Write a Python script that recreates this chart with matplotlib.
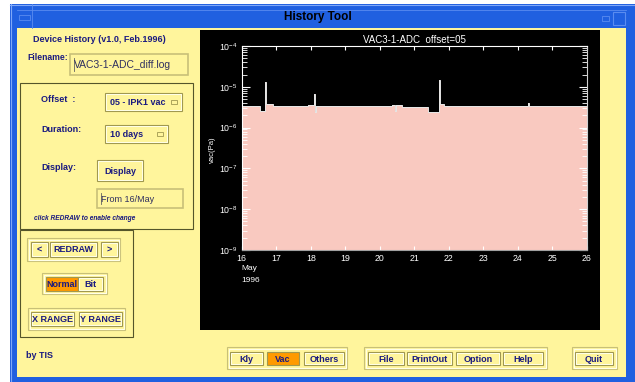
import numpy as np
import matplotlib; matplotlib.use("Agg")
import matplotlib.pyplot as plt
from matplotlib.patches import Rectangle
from matplotlib.ticker import LogLocator, NullFormatter, FixedLocator

# ---- data (day of May 1996, pressure in Pa)
days = [16.0, 16.53, 16.68, 16.70, 16.90, 17.92, 18.10, 18.12, 18.14,
        20.36, 20.44, 20.47, 20.64, 21.40, 21.72, 21.74, 21.85, 24.30, 24.32, 26.0]
pressure = [3.4e-6, 2.5e-6, 1.3e-5, 3.7e-6, 3.3e-6, 3.5e-6, 6.5e-6, 2.4e-6, 3.3e-6,
            3.5e-6, 2.5e-6, 3.5e-6, 3.2e-6, 2.4e-6, 1.5e-5, 3.8e-6, 3.3e-6, 4.0e-6, 3.3e-6, 3.3e-6]
day_ticks = list(range(16, 27))

YEL = "#FFF59C"; BLUE = "#2060E0"; NAVY = "#1A1A80"; ORANGE = "#FF9A00"; PINK = "#F9C9C0"
DARK = "#A09850"; LIGHT = "#FFFFE8"
plt.rcParams.update({"font.family": ["Liberation Sans", "DejaVu Sans"]})

fig = plt.figure(figsize=(6.35, 3.82), dpi=100)
bg = fig.add_axes([0, 0, 1, 1])
bg.set_xlim(0, 635); bg.set_ylim(382, 0); bg.axis("off")

def rect(x0, y0, x1, y1, **kw):
    bg.add_patch(Rectangle((x0, y0), x1 - x0, y1 - y0, **kw))

def frame(x0, y0, x1, y1):
    rect(x0, y0, x1, y1, fc="none", ec="#C8C078", lw=0.8)
    rect(x0 + 1.5, y0 + 1.5, x1 - 1.5, y1 - 1.5, fc="none", ec=LIGHT, lw=0.8)

def button(x0, y0, x1, y1, label, face=YEL, size=6.5):
    rect(x0, y0, x1, y1, fc=face, ec=DARK, lw=0.8)
    if face == YEL:
        rect(x0 + 1.2, y0 + 1.2, x1 - 1.2, y1 - 1.2, fc="none", ec=LIGHT, lw=0.7)
    bg.text((x0 + x1) / 2, (y0 + y1) / 2 + 0.5, label, ha="center", va="center",
            fontsize=size, fontweight="bold", color=NAVY)

def textbox(x0, y0, x1, y1, label, size=6.5):
    rect(x0, y0, x1, y1, fc=YEL, ec="#C8C078", lw=1.2)
    bg.plot([x0 + 4, x0 + 4], [y0 + 4, y1 - 4], color="#606060", lw=0.6)
    bg.text(x0 + 4, (y0 + y1) / 2 + 0.5, label, ha="left", va="center", fontsize=size, color="#303060")

def dropdown(x0, y0, x1, y1, label):
    button(x0, y0, x1, y1, "")
    bg.text(x0 + 5, (y0 + y1) / 2 + 0.5, label, ha="left", va="center",
            fontsize=6.5, fontweight="bold", color=NAVY)
    rect(x1 - 11, (y0 + y1) / 2 - 2, x1 - 5, (y0 + y1) / 2 + 2, fc=YEL, ec=DARK, lw=0.6)

# ---- window chrome
rect(10, 4, 635, 382, fc=BLUE, ec="none")
bg.plot([10.5, 10.5], [4, 382], color="#7FA8F8", lw=0.8)
bg.plot([10, 635], [4.5, 4.5], color="#7FA8F8", lw=0.8)
bg.plot([17, 626], [10, 10], color="#5A8CF0", lw=0.6)
bg.plot([32, 32], [4, 28], color="#5A8CF0", lw=0.6)
rect(19, 15, 30, 20, fc="none", ec="#5A8CF0", lw=0.6)
rect(602, 16, 609, 21, fc="none", ec="#5A8CF0", lw=0.6)
rect(613, 12, 625, 25, fc="none", ec="#5A8CF0", lw=0.8)
bg.text(318, 17, "History Tool", ha="center", va="center", fontsize=8.5, fontweight="bold", color="black")
rect(17, 28, 626, 377, fc=YEL, ec="none")

# ---- left panel
bg.text(33, 40, "Device History (v1.0, Feb.1996)", fontsize=6.5, fontweight="bold", color=NAVY, va="center")
bg.text(27, 57, "Filename:", fontsize=6.2, fontweight="bold", color=NAVY, va="center")
textbox(70, 54, 188, 75, "VAC3-1-ADC_diff.log", size=7.5)

rect(20, 83, 193, 229, fc="none", ec="#55552A", lw=0.8)
bg.text(41, 99, "Offset  :", fontsize=6.5, fontweight="bold", color=NAVY, va="center")
dropdown(105, 93, 182, 111, "05 - IPK1 vac")
bg.text(41, 130, "Duration:", fontsize=6.5, fontweight="bold", color=NAVY, va="center")
dropdown(105, 125, 168, 143, "10 days")
bg.text(41, 168, "Display:", fontsize=6.5, fontweight="bold", color=NAVY, va="center")
button(97, 160, 143, 181, "Display")
textbox(97, 189, 183, 208, "From 16/May", size=6.5)
bg.text(34, 219, "click REDRAW to enable change", fontsize=4.8, fontweight="bold",
        fontstyle="italic", color=NAVY, va="center")

rect(20, 230, 133, 337, fc="none", ec="#55552A", lw=0.8)
frame(27, 238, 120, 261)
button(31, 242, 48, 257, "<")
button(50, 242, 97, 257, "REDRAW")
button(101, 242, 118, 257, ">")
frame(42, 273, 107, 294)
button(46, 277, 78, 291, "Normal", face=ORANGE)
button(78, 277, 103, 291, "Bit")
frame(28, 308, 125, 330)
button(31, 312, 74, 326, "X RANGE")
button(79, 312, 122, 326, "Y RANGE")
bg.text(26, 356, "by TIS", fontsize=6.5, fontweight="bold", color=NAVY, va="center")

# ---- bottom button row
frame(227, 347, 347, 369)
button(230, 352, 263, 365, "Kly")
button(267, 352, 299, 365, "Vac", face=ORANGE)
button(304, 352, 344, 365, "Others")
frame(364, 347, 547, 369)
for lab, a, b in [("File", 368, 404), ("PrintOut", 407, 452), ("Option", 456, 500), ("Help", 503, 543)]:
    button(a, 352, b, 365, lab)
frame(572, 347, 617, 369)
button(575, 352, 613, 365, "Quit")

# ---- black plot panel
rect(200, 30, 600, 330, fc="black", ec="none")
bg.text(241, 269, "May", fontsize=6, color="white", va="center")
bg.text(241, 280, "1996", fontsize=6, color="white", va="center")
bg.text(212, 150, "vac(Pa)", fontsize=5.5, color="white", rotation=90, ha="center", va="center")

W, H = 635, 382
ax = fig.add_axes([241.7 / W, 1 - 250 / H, (587 - 241.7) / W, (250 - 46) / H])
ax.set_facecolor("black")
ax.fill_between(days, pressure, 1e-10, step="post", color=PINK, lw=0)
ax.step(days, pressure, where="post", color="#E6E6E6", lw=0.7)
ax.set_yscale("log")
ax.set_xlim(16, 26); ax.set_ylim(1e-9, 1e-4)
ax.xaxis.set_major_locator(FixedLocator(day_ticks))
ax.yaxis.set_major_locator(LogLocator(base=10, numticks=10))
ax.yaxis.set_minor_locator(LogLocator(base=10, subs=np.arange(2, 10), numticks=10))
ax.yaxis.set_minor_formatter(NullFormatter())
ax.tick_params(axis="both", which="both", direction="in", colors="white", labelsize=6.3,
               top=True, right=True, labelcolor="white")
ax.tick_params(axis="y", which="major", length=6, width=0.8, pad=3)
ax.tick_params(axis="y", which="minor", length=3.5, width=0.6)
ax.tick_params(axis="x", which="major", length=3, width=0.8, pad=3)
for side in ["left", "top"]:
    ax.spines[side].set_color("white")
ax.spines["right"].set_color("#D0D0D0")
ax.spines["bottom"].set_color("#A0A0A0")
for s in ax.spines.values():
    s.set_linewidth(0.8)
ax.set_title("VAC3-1-ADC  offset=05", color="white", fontsize=7, pad=2.5)

fig.savefig("out.png", dpi=100)
